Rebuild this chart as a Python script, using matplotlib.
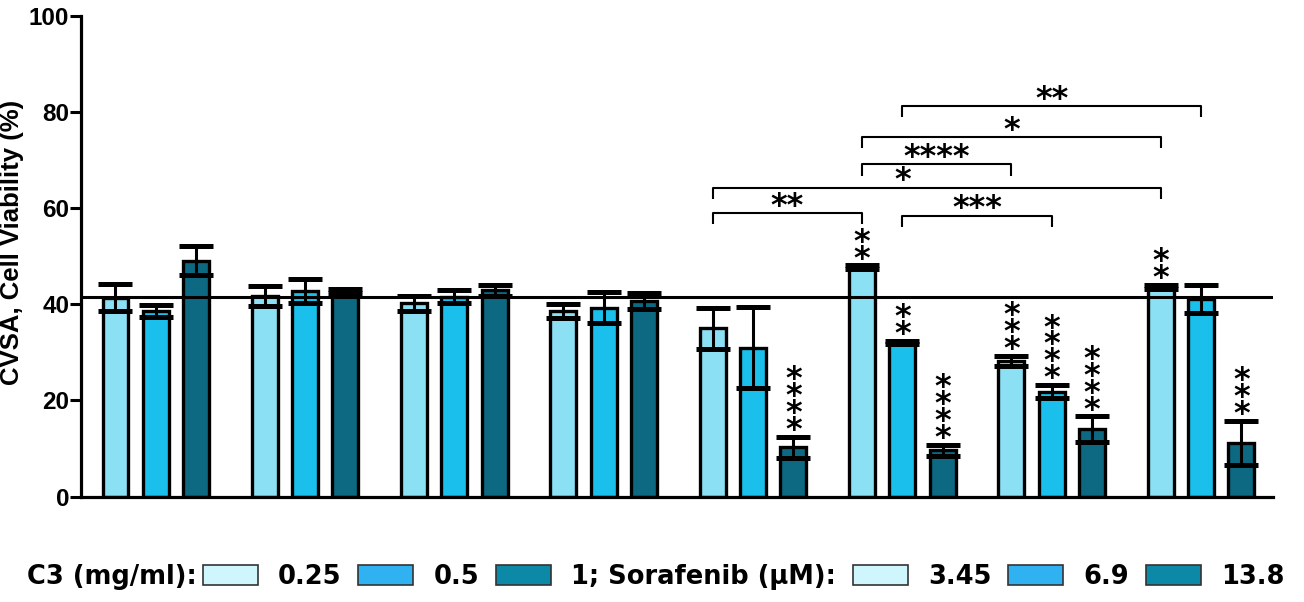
import matplotlib
matplotlib.use("Agg")
import matplotlib.pyplot as plt
from matplotlib.patches import Patch
import numpy as np

# bar heights / SEM for the 8 treatment groups, 3 doses each
bar_a = [41.4, 41.8, 40.2, 38.6, 35.0, 47.7, 28.2, 43.6]
err_a = [2.8, 2.1, 1.5, 1.4, 4.3, 0.4, 1.1, 0.4]
bar_b = [38.6, 42.7, 41.6, 39.3, 31.0, 32.1, 21.8, 41.1]
err_b = [1.3, 2.5, 1.3, 3.2, 8.5, 0.3, 1.4, 2.9]
bar_c = [49.1, 42.8, 42.9, 40.7, 10.2, 9.6, 14.0, 11.2]
err_c = [3.0, 0.4, 1.1, 1.6, 2.2, 1.2, 2.7, 4.6]

# number of stacked significance stars above each bar
stars_a = [0, 0, 0, 0, 0, 2, 3, 2]
stars_b = [0, 0, 0, 0, 0, 2, 4, 0]
stars_c = [0, 0, 0, 0, 4, 4, 4, 3]

control_level = 41.6

# comparison brackets: (group, dose) -> (group, dose), height, label, label anchor (group, dose) or None
brackets = [
    ((4, 0), (5, 0), 59.0, "**", None),
    ((5, 1), (6, 1), 58.4, "***", None),
    ((4, 0), (7, 0), 64.3, "*", (5, 1)),
    ((5, 0), (6, 0), 69.1, "****", None),
    ((5, 0), (7, 0), 74.8, "*", None),
    ((5, 1), (7, 1), 81.2, "**", None),
]

legend_labels = ["0.25", "0.5", "1; Sorafenib (µM):", "3.45", "6.9", "13.8"]
legend_colors = ["#cff6fc", "#2fb1f2", "#0d89a8", "#cff6fc", "#2fb1f2", "#0d89a8"]
bar_colors = ["#8ce0f4", "#1ac0eb", "#0d6881"]

group_step = 3.705
bar_w = 0.645
star_size = 23
star_mid = 0.43 * star_size  # asterisk glyph centre above baseline, points


def xpos(g, j):
    return g * group_step + j


fig = plt.figure(figsize=(13.04, 6.02), dpi=100)
ax = fig.add_axes([81 / 1304, 105.5 / 602, (1273 - 81) / 1304, 480.5 / 602])

groups = np.arange(len(bar_a))
series = [(bar_a, err_a, stars_a), (bar_b, err_b, stars_b), (bar_c, err_c, stars_c)]
for j, (vals, errs, nst) in enumerate(series):
    xs = xpos(groups, j)
    ax.bar(xs, vals, width=bar_w, color=bar_colors[j], edgecolor="black",
           linewidth=2.4, zorder=2)
    ax.errorbar(xs, vals, yerr=errs, fmt="none", ecolor="black", elinewidth=2.2,
                capsize=12, capthick=3.6, zorder=3)
    for g in groups:
        for k in range(nst[g]):
            ax.annotate("*", xy=(xs[g], vals[g] + errs[g]),
                        xytext=(0, 8.2 + 12.2 * k - star_mid), textcoords="offset points",
                        ha="center", va="baseline", fontsize=star_size,
                        family="DejaVu Sans", fontweight="bold", zorder=4)

ax.axhline(control_level, color="black", linewidth=2.2, zorder=4)

leg = 2.3
for (g1, j1), (g2, j2), h, lab, anchor in brackets:
    x1, x2 = xpos(g1, j1), xpos(g2, j2)
    ax.plot([x1, x1, x2, x2], [h - leg, h, h, h - leg], color="black",
            linewidth=1.5, solid_capstyle="butt", zorder=4)
    tx = (x1 + x2) / 2 if anchor is None else xpos(*anchor)
    ax.annotate(lab, xy=(tx, h), xytext=(0, 8.8 - star_mid), textcoords="offset points",
                ha="center", va="baseline", fontsize=star_size,
                family="DejaVu Sans", fontweight="bold")

ax.set_xlim(-0.856, 28.72)
ax.set_ylim(0, 100)
ax.set_yticks([0, 20, 40, 60, 80, 100])
ax.set_xticks([])
for side in ["top", "right"]:
    ax.spines[side].set_visible(False)
for side in ["left", "bottom"]:
    ax.spines[side].set_linewidth(2.3)
ax.tick_params(axis="y", length=8, width=2.2, pad=0.5)
for t in ax.get_yticklabels():
    t.set_fontfamily("Liberation Sans")
    t.set_fontweight("bold")
    t.set_fontsize(17.5)
ax.set_ylabel("CVSA, Cell Viability (%)", family="Liberation Sans", fontweight="bold",
              fontsize=18.5)
ax.yaxis.set_label_coords(-0.048, 0.528)

handles = [Patch(facecolor=c, edgecolor="#333333", linewidth=1.2) for c in legend_colors]
fig.legend(handles, legend_labels, loc="center left",
           bbox_to_anchor=(203 / 1304, 1 - 577 / 602), ncol=6, frameon=False,
           borderpad=0, borderaxespad=0, handlelength=2.14, handleheight=0.86,
           handletextpad=0.78, columnspacing=0.66,
           prop={"family": "DejaVu Sans", "weight": "bold", "size": 18.5})
fig.text(197 / 1304, 1 - 577 / 602, "C3 (mg/ml):", ha="right", va="center",
         family="DejaVu Sans", fontweight="bold", fontsize=18.5)

fig.savefig("out.png", dpi=100)
